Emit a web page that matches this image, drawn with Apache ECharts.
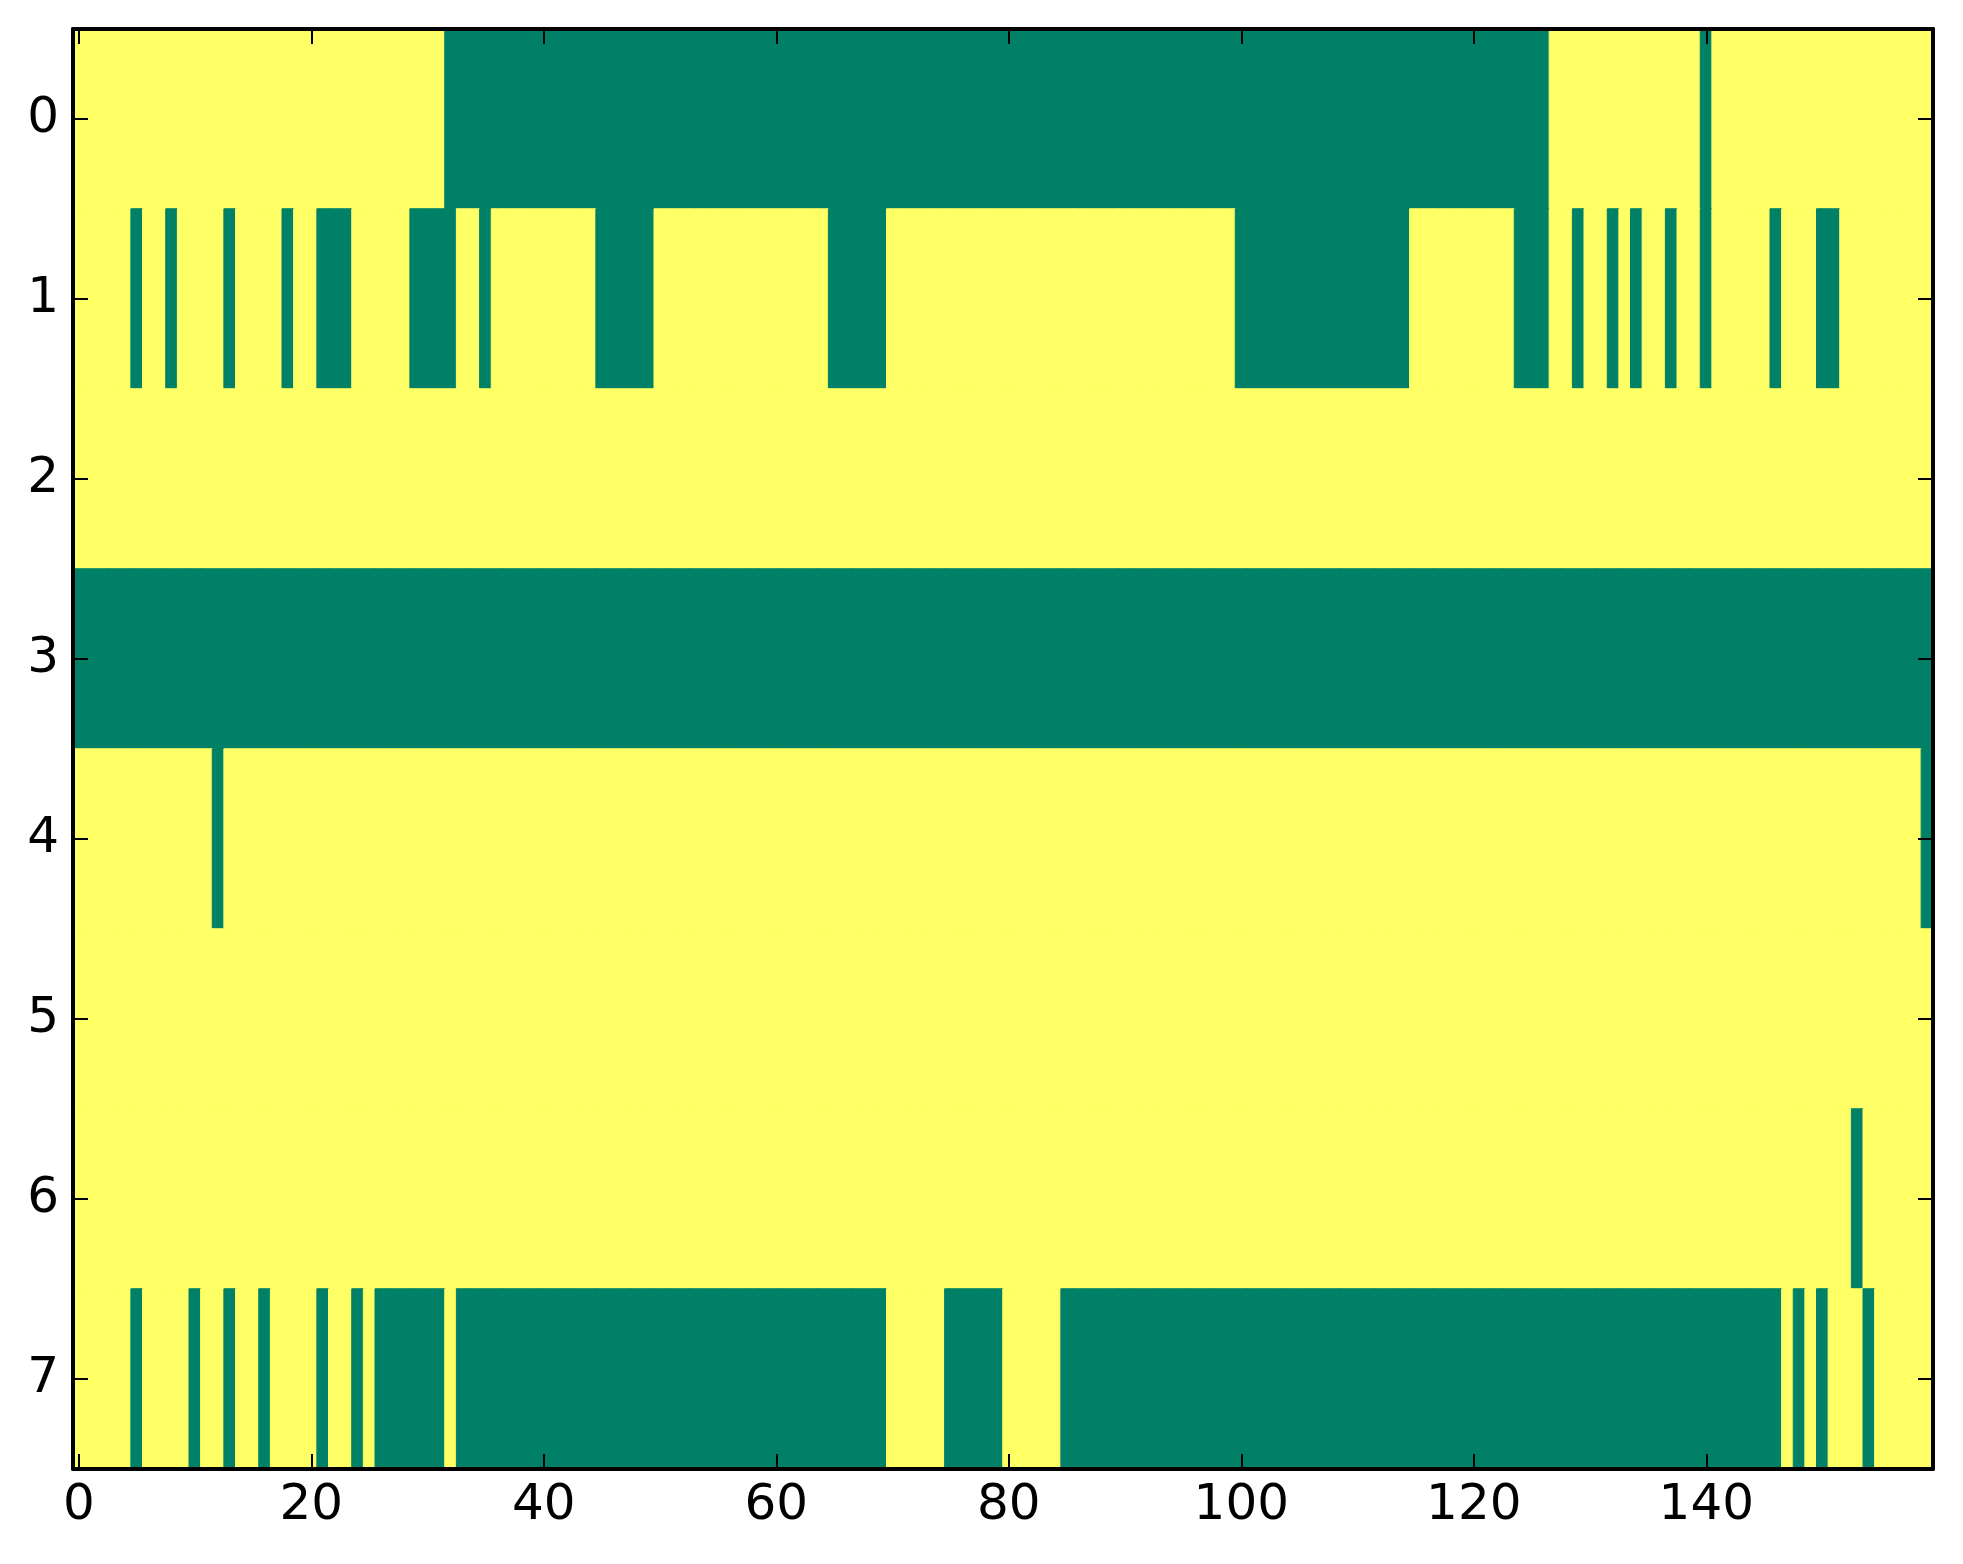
<!DOCTYPE html>
<html>
<head>
<meta charset="utf-8">
<script src="https://cdn.jsdelivr.net/npm/echarts@6/dist/echarts.min.js"></script>
<style>
html,body{margin:0;padding:0;background:#fff;}
#main{width:1963px;height:1564px;}
</style>
</head>
<body>
<div id="main"></div>
<script>
// ---- data ----
const columnCount = 160;                 // columns 0..159
const rowLabels = ['0','1','2','3','4','5','6','7'];
const xTickStep = 20;                    // labelled x ticks 0,20,...,140
// green (value 0) runs per row, inclusive [start, end]; everything else is yellow (value 1)
const row0Green = [[32,126],[140,140]];
const row1Green = [[5,5],[8,8],[13,13],[18,18],[21,23],[29,32],[35,35],[45,49],[65,69],[100,114],[124,126],[129,129],[132,132],[134,134],[137,137],[140,140],[146,146],[150,151]];
const row2Green = [];
const row3Green = [[0,159]];
const row4Green = [[12,12],[159,159]];
const row5Green = [];
const row6Green = [[153,153]];
const row7Green = [[5,5],[10,10],[13,13],[16,16],[21,21],[24,24],[26,31],[33,69],[75,79],[85,146],[148,148],[150,150],[154,154]];

const greenRuns = [row0Green,row1Green,row2Green,row3Green,row4Green,row5Green,row6Green,row7Green];
const colLabels = [];
for (let c = 0; c < columnCount; c++) colLabels.push(String(c));

const GREEN = '#008066', YELLOW = '#ffff66';
const cellColors = [GREEN, YELLOW];

const cells = [];
greenRuns.forEach((runs, r) => {
  for (let c = 0; c < columnCount; c++) {
    const isGreen = runs.some(([a,b]) => c >= a && c <= b);
    const v = isGreen ? 0 : 1;
    cells.push({value:[c, r, v], itemStyle:{borderColor:cellColors[v], borderWidth:1}});
  }
});

const FONT = 'DejaVu Sans';
const tickStyle = {color:'#000', width:2};
const lineStyle = {color:'#000', width:4};
const xTickFn = (i) => i % xTickStep === 0;

const chart = echarts.init(document.getElementById('main'), null, {renderer:'canvas'});
chart.setOption({
  animation:false,
  backgroundColor:'#fff',
  grid:{left:73, right:30, top:29, bottom:95, containLabel:false},
  xAxis:[
    {type:'category', data:colLabels, position:'bottom', z:10,
     axisLine:{show:true, onZero:false, lineStyle:lineStyle},
     axisTick:{show:true, inside:true, length:15, alignWithLabel:true, interval:xTickFn, lineStyle:tickStyle},
     axisLabel:{show:true, interval:xTickFn, fontFamily:FONT, fontSize:50, color:'#000', margin:12},
     splitLine:{show:false}},
    {type:'category', data:colLabels, position:'top', z:10,
     axisLine:{show:true, onZero:false, lineStyle:lineStyle},
     axisTick:{show:true, inside:true, length:15, alignWithLabel:true, interval:xTickFn, lineStyle:tickStyle},
     axisLabel:{show:false}, splitLine:{show:false}}
  ],
  yAxis:[
    {type:'category', data:rowLabels, inverse:true, position:'left', z:10,
     axisLine:{show:true, onZero:false, lineStyle:lineStyle},
     axisTick:{show:true, inside:true, length:15, alignWithLabel:true, interval:0, lineStyle:tickStyle},
     axisLabel:{show:true, interval:0, fontFamily:FONT, fontSize:50, color:'#000', margin:14},
     splitLine:{show:false}},
    {type:'category', data:rowLabels, inverse:true, position:'right', z:10,
     axisLine:{show:true, onZero:false, lineStyle:lineStyle},
     axisTick:{show:true, inside:true, length:15, alignWithLabel:true, interval:0, lineStyle:tickStyle},
     axisLabel:{show:false}, splitLine:{show:false}}
  ],
  visualMap:{type:'piecewise', show:false, dimension:2,
    pieces:[{value:0, color:GREEN},{value:1, color:YELLOW}]},
  series:[{
    type:'heatmap', xAxisIndex:0, yAxisIndex:0, data:cells,
    emphasis:{disabled:true}
  }]
});
</script>
</body>
</html>
